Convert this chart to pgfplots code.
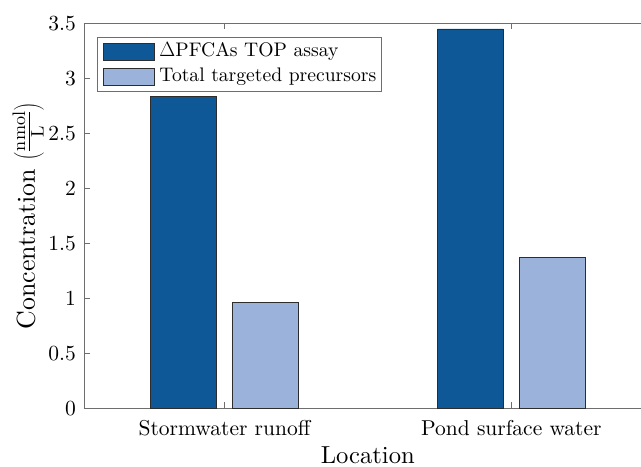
\documentclass[border=0pt]{standalone}
\usepackage{fontspec}
\setmainfont{lmroman10-regular.otf}
\usepackage{pgfplots}
\pgfplotsset{compat=1.18}
\definecolor{darkbar}{RGB}{14,88,152}
\definecolor{lightbar}{RGB}{155,179,219}
\definecolor{axgray}{RGB}{110,110,110}
\definecolor{edgec}{RGB}{45,45,45}
\begin{document}
\begin{tikzpicture}
\begin{axis}[
  scale only axis, width=557bp, height=385bp,
  xmin=-0.4895, xmax=1.452, ymin=0, ymax=3.5,
  axis y line*=left,
  ybar,
  legend image code/.code={\draw[#1, line width=0.6bp] (0bp,-8.5bp) rectangle (51bp,8.5bp);},
  xtick={0,1}, xticklabels={Stormwater runoff, Pond surface water},
  ytick={0,0.5,1,1.5,2,2.5,3,3.5},
  yticklabels={0,0.5,1,1.5,2,2.5,3,3.5},
  /pgf/number format/assume math mode=true,
  tick align=inside, major tick length=6bp,
  axis line style={draw=axgray, line width=0.8bp},
  every tick/.style={draw=axgray, line width=0.8bp},
  tick label style={font=\fontsize{21.6}{26}\selectfont},
  yticklabel style={inner sep=0bp, xshift=-8bp},
  xticklabel style={anchor=base, yshift=-27.5bp},
  label style={font=\fontsize{24.7}{29}\selectfont},
  xlabel={Location},
  xlabel style={at={([yshift=-55bp]axis description cs:0.5095,0)}, anchor=base, inner sep=0bp},
  ylabel={Concentration $\left(\frac{\mathrm{nmol}}{\mathrm{L}}\right)$},
  ylabel style={at={([xshift=-49bp]axis description cs:0,0.5)}, anchor=base, inner sep=0bp,
    font=\fontsize{26}{31}\selectfont},
  legend style={at={([xshift=13bp,yshift=-13.5bp]rel axis cs:0,1)}, anchor=north west,
    draw=axgray, line width=0.8bp, font=\fontsize{19.7}{23}\selectfont,
    inner xsep=5.5bp, inner ysep=5bp, row sep=6bp, column sep=5bp,
    nodes={inner sep=0bp, text height=14bp, text depth=5bp},
    cells={anchor=west}},
]
\addplot[fill=darkbar, draw=edgec, line width=0.6bp, bar width=0.23, bar shift=-0.143]
  coordinates {(0,2.84) (1,3.45)};
\addlegendentry{$\Delta$PFCAs TOP assay}
\addplot[fill=lightbar, draw=edgec, line width=0.6bp, bar width=0.23, bar shift=0.143]
  coordinates {(0,0.965) (1,1.377)};
\addlegendentry{Total targeted precursors}
\end{axis}
\pgfresetboundingbox
\useasboundingbox ([xshift=-84bp,yshift=-58.5bp]current axis.south west) rectangle ([yshift=23.5bp]current axis.north east);
\end{tikzpicture}
\end{document}
